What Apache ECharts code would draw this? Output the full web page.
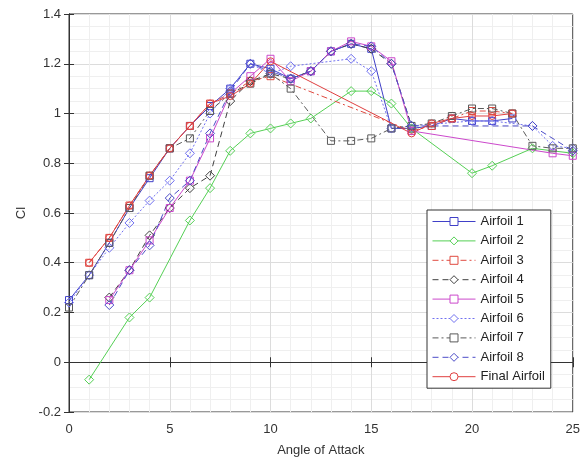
<!DOCTYPE html>
<html>
<head>
<meta charset="utf-8">
<script src="https://cdn.jsdelivr.net/npm/echarts@6/dist/echarts.min.js"></script>
<style>
  html, body { margin: 0; padding: 0; background: #fff; }
  #chart { width: 583px; height: 463px; }
</style>
</head>
<body>
<div id="chart"></div>
<script>
// angle of attack / Cl pairs
const airfoil1 = [[0, 0.25], [1, 0.35], [2, 0.48], [3, 0.62], [4, 0.74], [5, 0.86], [6, 0.95], [7, 1.03], [8, 1.10], [9, 1.20], [10, 1.18], [11, 1.14], [12, 1.17], [13, 1.25], [14, 1.28], [15, 1.26], [16, 0.94], [17, 0.94], [18, 0.95], [19, 0.98], [20, 0.97], [21, 0.97], [22, 0.98]]
const airfoil2 = [[1, -0.07], [3, 0.18], [4, 0.26], [6, 0.57], [7, 0.70], [8, 0.85], [9, 0.92], [10, 0.94], [11, 0.96], [12, 0.98], [14, 1.09], [15, 1.09], [16, 1.04], [17, 0.94], [20, 0.76], [21, 0.79], [23, 0.86], [25, 0.84]]
const airfoil3 = [[1, 0.40], [2, 0.50], [3, 0.63], [4, 0.75], [5, 0.86], [6, 0.95], [7, 1.04], [8, 1.08], [9, 1.13], [10, 1.15], [17, 0.93], [18, 0.95], [19, 0.98], [20, 1.01], [21, 1.01], [22, 1.00]]
const airfoil4 = [[2, 0.26], [3, 0.37], [4, 0.51], [5, 0.62], [6, 0.70], [7, 0.75], [8, 1.05], [9, 1.13], [10, 1.16], [11, 1.14], [12, 1.17], [13, 1.25], [14, 1.28], [15, 1.26], [16, 1.20], [17, 0.95]]
const airfoil5 = [[2, 0.25], [3, 0.37], [4, 0.49], [5, 0.62], [6, 0.73], [7, 0.90], [8, 1.08], [9, 1.15], [10, 1.22], [11, 1.13], [12, 1.17], [13, 1.25], [14, 1.29], [15, 1.27], [16, 1.21], [17, 0.93], [24, 0.84], [25, 0.83]]
const airfoil6 = [[0, 0.24], [1, 0.35], [2, 0.46], [3, 0.56], [4, 0.65], [5, 0.73], [6, 0.84], [7, 1.00], [8, 1.10], [9, 1.20], [10, 1.16], [11, 1.19], [14, 1.22], [15, 1.17], [16, 0.94], [17, 0.95], [20, 0.97], [21, 0.97], [23, 0.95], [24, 0.87], [25, 0.86]]
const airfoil7 = [[0, 0.22], [1, 0.35], [2, 0.48], [3, 0.62], [4, 0.75], [5, 0.86], [6, 0.90], [7, 1.01], [8, 1.08], [9, 1.12], [10, 1.16], [11, 1.10], [13, 0.89], [14, 0.89], [15, 0.90], [16, 0.94], [17, 0.95], [18, 0.96], [19, 0.99], [20, 1.02], [21, 1.02], [22, 1.00], [23, 0.87], [24, 0.86], [25, 0.86]]
const airfoil8 = [[2, 0.23], [3, 0.37], [4, 0.47], [5, 0.66], [6, 0.73], [7, 0.92], [8, 1.09], [9, 1.20], [10, 1.17], [11, 1.14], [12, 1.17], [13, 1.25], [14, 1.28], [15, 1.27], [16, 1.20], [17, 0.95], [23, 0.95], [25, 0.85]]
const finalAirfoil = [[1, 0.40], [2, 0.50], [3, 0.63], [4, 0.75], [5, 0.86], [6, 0.95], [7, 1.04], [8, 1.07], [9, 1.12], [10, 1.21], [17, 0.92], [18, 0.96], [19, 0.98], [20, 0.99], [21, 0.99], [22, 1.00]]

const names = ['Airfoil 1', 'Airfoil 2', 'Airfoil 3', 'Airfoil 4', 'Airfoil 5', 'Airfoil 6', 'Airfoil 7', 'Airfoil 8', 'Final Airfoil']
const values = [airfoil1, airfoil2, airfoil3, airfoil4, airfoil5, airfoil6, airfoil7, airfoil8, finalAirfoil]
const xTicks = [0, 5, 10, 15, 20, 25]
const yTicks = [-0.2, 0, 0.2, 0.4, 0.6, 0.8, 1, 1.2, 1.4]

const colors = ['#4040c8', '#55d055', '#e04a40', '#404040', '#cc48cc', '#7070f0', '#5a5a5a', '#4c4cc8', '#e04040']
const symbols = ['rect', 'diamond', 'rect', 'diamond', 'rect', 'diamond', 'rect', 'diamond', 'circle']
const dashes = ['solid', 'solid', [6, 3, 2, 3], [6, 4], 'solid', [2, 2], [6, 3, 2, 3], [6, 4], 'solid']

const chart = echarts.init(document.getElementById('chart'))

const series = names.map((name, i) => ({
  name: name,
  type: 'line',
  data: values[i],
  symbol: symbols[i],
  symbolSize: symbols[i] === 'diamond' ? 9 : 7,
  color: colors[i],
  itemStyle: {
    color: 'rgba(255,255,255,0)',
    borderColor: colors[i],
    borderWidth: 1
  },
  lineStyle: {
    color: colors[i],
    width: 1,
    type: dashes[i]
  },
  emphasis: { disabled: true },
  animation: false
}))

const font = 'Liberation Sans, Arial, sans-serif'
const axisText = { color: '#333', fontSize: 13, fontFamily: font }

chart.setOption({
  backgroundColor: '#fff',
  animation: false,
  grid: {
    left: 69,
    right: 8,
    top: 14,
    bottom: 51,
    show: true,
    borderColor: '#333',
    borderWidth: 1
  },
  legend: {
    orient: 'vertical',
    left: 427,
    top: 210,
    itemWidth: 43,
    itemHeight: 10,
    itemGap: 6.4,
    padding: [5, 6, 5, 5],
    backgroundColor: '#fff',
    borderColor: '#333',
    borderWidth: 1,
    itemStyle: { color: '#fff', borderWidth: 1 },
    lineStyle: { width: 1 },
    textStyle: { color: '#222', fontSize: 13, fontFamily: font, padding: [0, 0, 0, 0] },
    data: names
  },
  xAxis: [
    {
      type: 'value',
      min: 0,
      max: 25,
      interval: 5,
      name: 'Angle of Attack',
      nameLocation: 'middle',
      nameGap: 32,
      nameTextStyle: axisText,
      axisLabel: Object.assign({ margin: 11, formatter: v => xTicks.includes(v) ? String(v) : '' }, axisText),
      axisLine: { lineStyle: { color: '#333' } },
      axisTick: { inside: true, length: 5, lineStyle: { color: '#333' } },
      splitLine: { show: true, lineStyle: { color: '#dcdcdc' } },
      minorTick: { show: false, splitNumber: 5 },
      minorSplitLine: { show: true, lineStyle: { color: '#efefef' } }
    },
    {
      type: 'value',
      position: 'top',
      min: 0,
      max: 25,
      interval: 5,
      axisLabel: { show: false },
      axisLine: { lineStyle: { color: '#333' } },
      axisTick: { inside: true, length: 5, lineStyle: { color: '#333' } },
      splitLine: { show: false }
    }
  ],
  yAxis: [
    {
      type: 'value',
      min: -0.2,
      max: 1.4,
      interval: 0.2,
      name: 'Cl',
      nameLocation: 'middle',
      nameGap: 38,
      nameTextStyle: axisText,
      axisLabel: Object.assign({
        margin: 8,
        formatter: v => {
          const r = Math.round(v * 10) / 10
          return yTicks.includes(r) ? String(r) : ''
        }
      }, axisText),
      axisLine: { show: true, lineStyle: { color: '#333' } },
      axisTick: { show: true, inside: true, length: 5, lineStyle: { color: '#333' } },
      splitLine: { show: true, lineStyle: { color: '#dcdcdc' } },
      minorTick: { show: false, splitNumber: 4 },
      minorSplitLine: { show: true, lineStyle: { color: '#efefef' } }
    },
    {
      type: 'value',
      position: 'right',
      min: -0.2,
      max: 1.4,
      interval: 0.2,
      axisLabel: { show: false },
      axisLine: { show: true, lineStyle: { color: '#333' } },
      axisTick: { show: true, inside: true, length: 5, lineStyle: { color: '#333' } },
      splitLine: { show: false }
    }
  ],
  series: series
})
</script>
</body>
</html>
